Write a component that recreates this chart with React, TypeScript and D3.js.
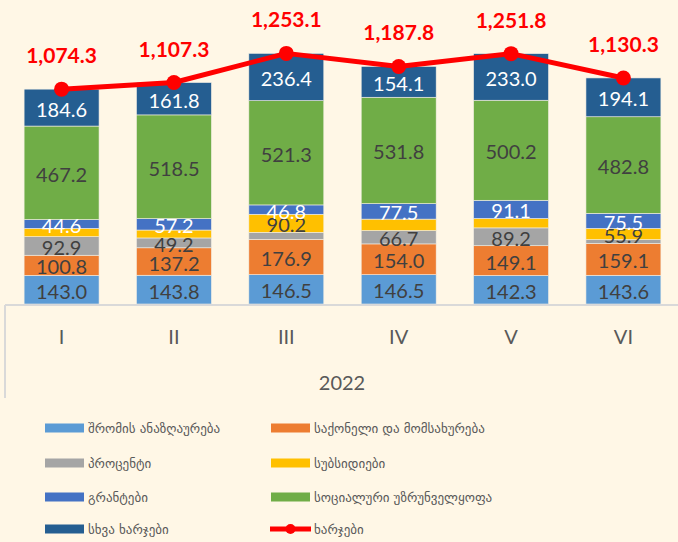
import React from "react";
import * as d3 from "d3";

const months = ["I", "II", "III", "IV", "V", "VI"];
const yearLabel = "2022";
const labor = [143.0, 143.8, 146.5, 146.5, 142.3, 143.6];
const goods = [100.8, 137.2, 176.9, 154.0, 149.1, 159.1];
const interest = [92.9, 49.2, 35.0, 66.7, 89.2, 19.3];
const subsidies = [41.2, 39.6, 90.2, 57.2, 46.9, 55.9];
const grants = [44.6, 57.2, 46.8, 77.5, 91.1, 75.5];
const social = [467.2, 518.5, 521.3, 531.8, 500.2, 482.8];
const other = [184.6, 161.8, 236.4, 154.1, 233.0, 194.1];
const total = [1074.3, 1107.3, 1253.1, 1187.8, 1251.8, 1130.3];

const seriesNames = [
  "შრომის ანაზღაურება",
  "საქონელი და მომსახურება",
  "პროცენტი",
  "სუბსიდიები",
  "გრანტები",
  "სოციალური უზრუნველყოფა",
  "სხვა ხარჯები",
];
const lineName = "ხარჯები";
// labels shown in the reference, per series (false = not displayed)
const interestShown = [true, true, false, true, true, false];
const subsidiesShown = [false, false, true, false, false, true];

const seriesValues = [labor, goods, interest, subsidies, grants, social, other];
const seriesShown = [
  months.map(() => true),
  months.map(() => true),
  interestShown,
  subsidiesShown,
  months.map(() => true),
  months.map(() => true),
  months.map(() => true),
];
const colors = ["#5B9BD5", "#ED7D31", "#A5A5A5", "#FFC000", "#4472C4", "#70AD47", "#255E91"];
const labelColors = ["#404040", "#404040", "#404040", "#404040", "#FFFFFF", "#404040", "#FFFFFF"];

const W = 678;
const H = 542;
const BG = "#FFF7E6";
const NUM_FONT = "Lato, 'Liberation Sans', sans-serif";
const GEO_FONT = "'DejaVu Sans', sans-serif";

export default function App() {
  const x = d3.scaleBand().domain(months).range([5, 680]).paddingInner(0.333).paddingOuter(0.17);
  const y = d3.scaleLinear().domain([0, 1400]).range([304, 24]);
  const bw = x.bandwidth();

  const rows = months.map((m, i) => {
    const o: any = { m };
    seriesValues.forEach((s, k) => (o["s" + k] = s[i]));
    return o;
  });
  const stack = d3.stack().keys(seriesValues.map((_, k) => "s" + k))(rows);

  const cx = (m: string) => (x(m) as number) + bw / 2;
  const line = d3
    .line<number>()
    .x((_, i) => cx(months[i]))
    .y((d) => y(d));

  const legendRows = [428, 463, 497, 529];
  const legendCols = [45, 271];

  return (
    <svg
      width={W}
      height={H}
      style={{ position: "absolute", left: 0, top: 0, background: BG }}
    >
      <rect x={0} y={0} width={W} height={H} fill={BG} />
      {stack.map((layer, k) => (
        <g key={k}>
          {layer.map((d, i) => (
            <rect
              key={i}
              x={x(months[i])}
              y={y(d[1])}
              width={bw}
              height={y(d[0]) - y(d[1])}
              fill={colors[k]}
              stroke="#F3EFE4"
              strokeWidth={0.6}
            />
          ))}
        </g>
      ))}
      {stack.map((layer, k) => (
        <g key={"l" + k}>
          {layer.map((d, i) =>
            seriesShown[k][i] ? (
              <text
                key={i}
                x={cx(months[i])}
                y={(y(d[0]) + y(d[1])) / 2 + 1}
                textAnchor="middle"
                dominantBaseline="central"
                fontFamily={NUM_FONT}
                fontSize={20}
                fill={labelColors[k]}
              >
                {seriesValues[k][i].toFixed(1)}
              </text>
            ) : null
          )}
        </g>
      ))}
      {/* category axis box */}
      <line x1={5} x2={W} y1={305} y2={305} stroke="#D9D9D9" strokeWidth={2} />
      <line x1={5} x2={5} y1={305} y2={398} stroke="#D9D9D9" strokeWidth={2} />
      {months.map((m) => (
        <text
          key={m}
          x={cx(m)}
          y={336}
          textAnchor="middle"
          dominantBaseline="central"
          fontFamily={NUM_FONT}
          fontSize={20}
          fill="#595959"
        >
          {m}
        </text>
      ))}
      <text
        x={342}
        y={382}
        textAnchor="middle"
        dominantBaseline="central"
        fontFamily={NUM_FONT}
        fontSize={20}
        fill="#595959"
      >
        {yearLabel}
      </text>
      {/* total line */}
      <path d={line(total) || ""} fill="none" stroke="#FF0000" strokeWidth={5} strokeLinejoin="round" />
      {total.map((v, i) => (
        <circle key={i} cx={cx(months[i])} cy={y(v)} r={7.5} fill="#FF0000" />
      ))}
      {total.map((v, i) => (
        <text
          key={"t" + i}
          x={cx(months[i])}
          y={y(v) - 26}
          textAnchor="middle"
          fontFamily={NUM_FONT}
          fontWeight="bold"
          fontSize={21}
          fill="#FF0000"
        >
          {d3.format(",.1f")(v)}
        </text>
      ))}
      {/* legend */}
      {seriesNames.map((name, k) => {
        const lx = legendCols[k % 2];
        const ly = legendRows[Math.floor(k / 2)];
        return (
          <g key={name}>
            <rect x={lx} y={ly - 4.5} width={39} height={9} fill={colors[k]} />
            <text
              x={lx + 43}
              y={ly}
              dominantBaseline="central"
              fontFamily={GEO_FONT}
              fontSize={13}
              fill="#595959"
            >
              {name}
            </text>
          </g>
        );
      })}
      <g>
        <line x1={270} x2={311} y1={529} y2={529} stroke="#FF0000" strokeWidth={5} />
        <circle cx={290.5} cy={529} r={5} fill="#FF0000" />
        <text
          x={314}
          y={529}
          dominantBaseline="central"
          fontFamily={GEO_FONT}
          fontSize={13}
          fill="#595959"
        >
          {lineName}
        </text>
      </g>
    </svg>
  );
}
